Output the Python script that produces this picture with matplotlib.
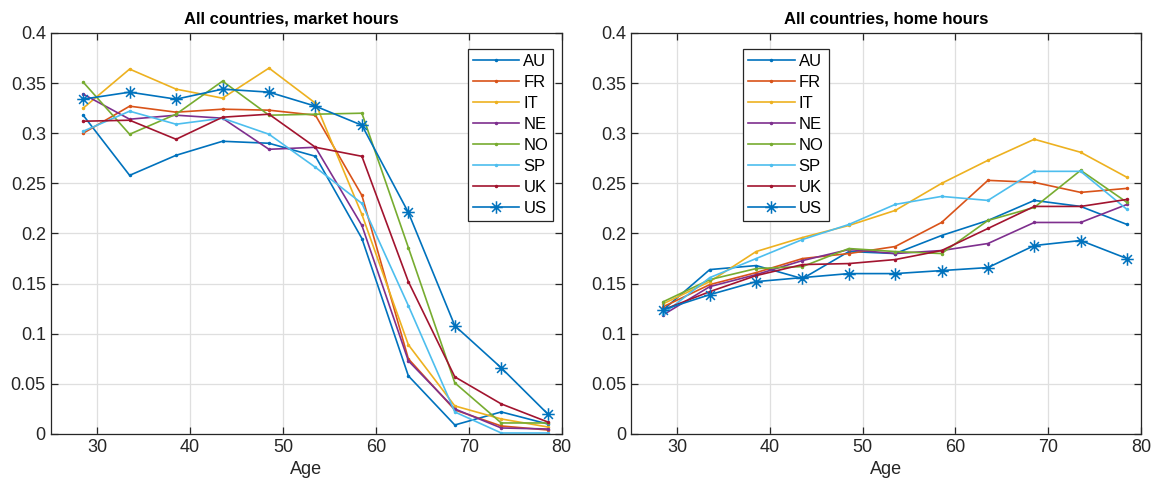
import numpy as np
import matplotlib.pyplot as plt
from matplotlib.path import Path
from matplotlib.ticker import FuncFormatter

plt.rcParams['font.family'] = ['Liberation Sans', 'DejaVu Sans']

# age groups (midpoints)
ages = [28.5, 33.5, 38.5, 43.5, 48.5, 53.5, 58.5, 63.5, 68.5, 73.5, 78.5]
countries = ['AU', 'FR', 'IT', 'NE', 'NO', 'SP', 'UK', 'US']

# market hours by country
mkt_au = [0.318, 0.258, 0.278, 0.292, 0.290, 0.277, 0.195, 0.058, 0.009, 0.022, 0.010]
mkt_fr = [0.300, 0.327, 0.321, 0.324, 0.323, 0.318, 0.238, 0.075, 0.024, 0.008, 0.004]
mkt_it = [0.325, 0.364, 0.344, 0.335, 0.365, 0.330, 0.219, 0.089, 0.028, 0.015, 0.007]
mkt_ne = [0.339, 0.314, 0.318, 0.315, 0.284, 0.286, 0.208, 0.073, 0.025, 0.006, 0.005]
mkt_no = [0.351, 0.299, 0.319, 0.352, 0.318, 0.319, 0.320, 0.186, 0.051, 0.011, 0.011]
mkt_sp = [0.302, 0.322, 0.309, 0.315, 0.299, 0.266, 0.230, 0.128, 0.022, 0.001, 0.001]
mkt_uk = [0.312, 0.313, 0.294, 0.316, 0.319, 0.286, 0.277, 0.152, 0.057, 0.030, 0.012]
mkt_us = [0.334, 0.341, 0.334, 0.344, 0.341, 0.327, 0.308, 0.221, 0.108, 0.066, 0.020]

# home hours by country
home_au = [0.124, 0.164, 0.168, 0.155, 0.182, 0.180, 0.198, 0.213, 0.233, 0.227, 0.209]
home_fr = [0.127, 0.149, 0.161, 0.175, 0.180, 0.187, 0.211, 0.253, 0.251, 0.241, 0.245]
home_it = [0.130, 0.152, 0.182, 0.196, 0.208, 0.223, 0.250, 0.273, 0.294, 0.281, 0.256]
home_ne = [0.119, 0.147, 0.159, 0.173, 0.184, 0.180, 0.183, 0.190, 0.211, 0.211, 0.229]
home_no = [0.132, 0.154, 0.165, 0.167, 0.185, 0.182, 0.180, 0.213, 0.226, 0.263, 0.231]
home_sp = [0.120, 0.156, 0.175, 0.194, 0.209, 0.229, 0.237, 0.233, 0.262, 0.262, 0.224]
home_uk = [0.124, 0.142, 0.158, 0.169, 0.170, 0.174, 0.183, 0.205, 0.227, 0.227, 0.234]
home_us = [0.124, 0.139, 0.152, 0.156, 0.160, 0.160, 0.163, 0.166, 0.188, 0.193, 0.175]

market = [mkt_au, mkt_fr, mkt_it, mkt_ne, mkt_no, mkt_sp, mkt_uk, mkt_us]
home = [home_au, home_fr, home_it, home_ne, home_no, home_sp, home_uk, home_us]

# matlab default line colours
colors = ['#0072BD', '#D95319', '#EDB120', '#7E2F8E',
          '#77AC30', '#4DBEEE', '#A2142F', '#0072BD']

# matlab style asterisk marker (+ and x overlaid)
d = np.sqrt(0.5)
ast_verts = [(-1, 0), (1, 0), (0, -1), (0, 1),
             (-d, -d), (d, d), (-d, d), (d, -d)]
ast_codes = [Path.MOVETO, Path.LINETO] * 4
asterisk = Path(ast_verts, ast_codes)

fig = plt.figure(figsize=(11.59, 4.91), dpi=100)
ax1 = fig.add_axes([0.0437, 0.1161, 0.4409, 0.8167])
ax2 = fig.add_axes([0.5444, 0.1161, 0.4400, 0.8167])

txt = '#262626'


def draw(ax, series, title, title_x, leg_anchor):
    for name, vals, c in zip(countries, series, colors):
        if name == 'US':
            ax.plot(ages, vals, color=c, lw=1.2, marker=asterisk, ms=9,
                    mew=1.1, mfc='none', label=name)
        else:
            ax.plot(ages, vals, color=c, lw=1.2, marker='.', ms=3,
                    label=name)
    ax.set_xlim(25, 80)
    ax.set_ylim(0, 0.4)
    ax.set_xticks([30, 40, 50, 60, 70, 80])
    ax.set_yticks([0, 0.05, 0.1, 0.15, 0.2, 0.25, 0.3, 0.35, 0.4])
    ax.yaxis.set_major_formatter(FuncFormatter(lambda v, p: f'{v:g}'))
    ax.grid(True, color='#dfdfdf', lw=0.9)
    ax.set_axisbelow(True)
    ax.tick_params(direction='in', top=True, right=True, length=5,
                   labelsize=13, colors=txt, width=0.9)
    for s in ax.spines.values():
        s.set_color(txt)
        s.set_linewidth(0.9)
    ax.set_xlabel('Age', fontsize=13, color=txt)
    ax.set_title(title, fontsize=12, fontweight='bold', color='black',
                 pad=7, x=title_x)
    leg = ax.legend(fontsize=12, handlelength=2.8, labelspacing=0.36,
                    borderpad=0.3, handletextpad=0.25, fancybox=False,
                    framealpha=1, edgecolor='#262626', loc='upper left',
                    bbox_to_anchor=leg_anchor, borderaxespad=0)
    leg.get_frame().set_linewidth(0.9)


draw(ax1, market, 'All countries, market hours', 0.47, (0.816, 0.96))
draw(ax2, home, 'All countries, home hours', 0.5, (0.2196, 0.96))

plt.savefig('out.png', dpi=100)
